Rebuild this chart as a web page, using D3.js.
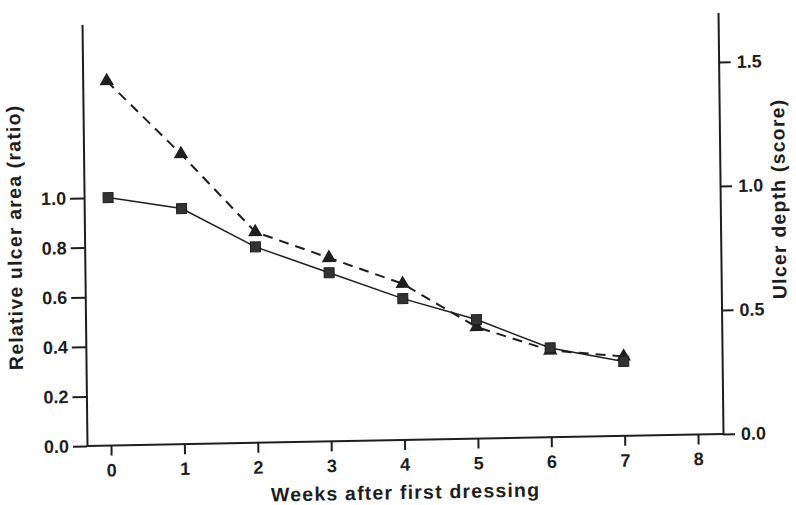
<!DOCTYPE html>
<html>
<head>
<meta charset="utf-8">
<script src="https://cdn.jsdelivr.net/npm/d3@7"></script>
<style>
  body { margin: 0; background: #fff; }
  svg { font-family: "Liberation Sans", Arial, sans-serif; font-weight: bold; }
</style>
</head>
<body>
<svg id="chart" width="796" height="505"></svg>
<script>
// weeks after first dressing
var weeks = [0, 1, 2, 3, 4, 5, 6, 7];
// relative ulcer area (ratio), squares, left axis
var ulcerArea = [1.0, 0.95, 0.79, 0.68, 0.57, 0.48, 0.36, 0.30];
// ulcer depth (score), triangles, right axis
var ulcerDepth = [1.47, 1.17, 0.85, 0.74, 0.63, 0.45, 0.35, 0.32];

var xTicks = [0, 1, 2, 3, 4, 5, 6, 7, 8];
var leftTicks = [0, 0.2, 0.4, 0.6, 0.8, 1.0];
var rightTicks = [0, 0.5, 1.0, 1.5];

var ink = '#1e1e1e';
var x0 = 87, x1 = 723, y0 = 446;

var svg = d3.select('#chart');

// the scan is slightly skewed, so the whole figure gets a small shear
var g = svg.append('g')
  .attr('transform', 'translate(' + x0 + ',' + y0 + ') matrix(1,-0.0189,0.0118,1,0,0) translate(' + (-x0) + ',' + (-y0) + ')');

var x = d3.scaleLinear().domain([0, 8]).range([111, 698]);
var y = d3.scaleLinear().domain([0, 1.7]).range([y0, y0 - 1.7 * 248]);

// left axis
var leftAxis = d3.axisLeft(y).tickValues(leftTicks).tickSize(14).tickSizeOuter(0).tickPadding(4)
  .tickFormat(d3.format('.1f'));
var gl = g.append('g').attr('transform', 'translate(' + x0 + ',0)').call(leftAxis);

// right axis
var rightAxis = d3.axisRight(y).tickValues(rightTicks).tickSize(12).tickSizeOuter(0).tickPadding(6)
  .tickFormat(d3.format('.1f'));
var gr = g.append('g').attr('transform', 'translate(' + x1 + ',0)').call(rightAxis);

// bottom axis
var bottomAxis = d3.axisBottom(x).tickValues(xTicks).tickSize(10).tickSizeOuter(0).tickPadding(8)
  .tickFormat(d3.format('d'));
var gb = g.append('g').attr('transform', 'translate(0,' + y0 + ')').call(bottomAxis);
gb.select('.domain').remove();
g.append('line')
  .attr('x1', x0).attr('x2', x1)
  .attr('y1', y0).attr('y2', y0)
  .attr('stroke', ink).attr('stroke-width', 2);

[gl, gr, gb].forEach(function(a) {
  a.selectAll('.domain').attr('stroke', ink).attr('stroke-width', 2);
  a.selectAll('.tick line').attr('stroke', ink).attr('stroke-width', 2);
  a.selectAll('.tick text')
    .attr('fill', ink)
    .style('font-size', '18px')
    .style('font-family', '"Liberation Sans", Arial, sans-serif')
    .style('font-weight', 'bold');
});

// axis titles
g.append('text')
  .attr('transform', 'translate(24,236) rotate(-90)')
  .attr('text-anchor', 'middle')
  .attr('fill', ink)
  .style('font-size', '19.5px')
  .style('letter-spacing', '1.2px')
  .text('Relative ulcer area (ratio)');

g.append('text')
  .attr('transform', 'translate(788,212) rotate(-90)')
  .attr('text-anchor', 'middle')
  .attr('fill', ink)
  .style('font-size', '19.5px')
  .style('letter-spacing', '1.2px')
  .text('Ulcer depth (score)');

g.append('text')
  .attr('x', 405).attr('y', 505)
  .attr('text-anchor', 'middle')
  .attr('fill', ink)
  .style('font-size', '19.5px')
  .style('letter-spacing', '1.2px')
  .text('Weeks after first dressing');

// lines
var seriesLine = d3.line()
  .x(function(d, i) { return x(weeks[i]); })
  .y(function(d) { return y(d); });

g.append('path')
  .datum(ulcerDepth)
  .attr('d', seriesLine)
  .attr('fill', 'none')
  .attr('stroke', ink)
  .attr('stroke-width', 2)
  .attr('stroke-dasharray', '10,7');

g.append('path')
  .datum(ulcerArea)
  .attr('d', seriesLine)
  .attr('fill', 'none')
  .attr('stroke', ink)
  .attr('stroke-width', 1.5);

// markers
var tri = d3.symbol().type(d3.symbolTriangle).size(90);
g.selectAll('.tri')
  .data(ulcerDepth)
  .enter()
  .append('path')
  .attr('class', 'tri')
  .attr('transform', function(d, i) { return 'translate(' + x(weeks[i]) + ',' + y(d) + ')'; })
  .attr('d', tri)
  .attr('fill', ink);

g.selectAll('.sq')
  .data(ulcerArea)
  .enter()
  .append('rect')
  .attr('class', 'sq')
  .attr('x', function(d, i) { return x(weeks[i]) - 5; })
  .attr('y', function(d) { return y(d) - 5; })
  .attr('width', 10).attr('height', 10)
  .attr('fill', '#333')
  .attr('stroke', ink)
  .attr('stroke-width', 1);
</script>
</body>
</html>
